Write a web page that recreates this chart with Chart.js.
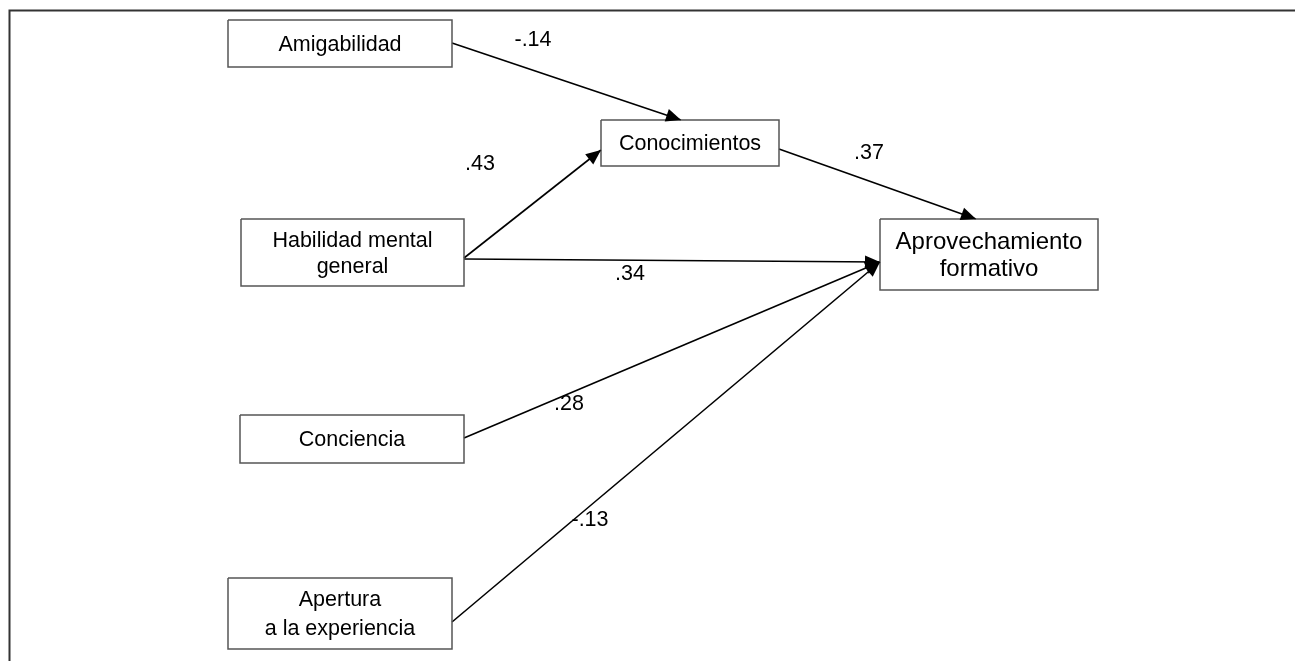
<!DOCTYPE html>
<html>
<head>
<meta charset="utf-8">
<script src="https://cdn.jsdelivr.net/npm/chart.js@4.4.1/dist/chart.umd.min.js"></script>
<style>
  html, body { margin: 0; padding: 0; background: #fff; }
  #wrap { width: 1295px; height: 661px; }
</style>
</head>
<body>
<div id="wrap"><canvas id="pathChart"></canvas></div>
<script>
// diagram units = pixels of the original figure (x right, y down)
const nodeLabels = [
    ['Amigabilidad'],
    ['Conocimientos'],
    ['Habilidad mental', 'general'],
    ['Aprovechamiento', 'formativo'],
    ['Conciencia'],
    ['Apertura', 'a la experiencia']
];
const nodeBoxes = [
    [228, 20, 452, 67],
    [601, 120, 779, 166],
    [241, 219, 464, 286],
    [880, 219, 1098, 290],
    [240, 415, 464, 463],
    [228, 578, 452, 649]
];

// paths: from node -> to node, standardized coefficient
const pathFrom = [0, 2, 1, 2, 4, 5];
const pathTo   = [1, 1, 3, 3, 3, 3];
const pathCoef = ['-.14', '.43', '.37', '.34', '.28', '-.13'];
const pathStart = [[452, 43], [464, 258], [779, 149], [464, 259], [464, 438], [452, 622]];
const pathEnd   = [[681, 120], [601, 150], [976, 219], [880, 262], [880, 262], [880, 262]];
const coefPos   = [[533, 39], [480, 163], [869, 152], [630, 273], [569, 403], [590, 519]];

const FONT = '"Liberation Sans", Arial, sans-serif';

const boxDatasets = nodeBoxes.map((b, i) => ({
    label: nodeLabels[i].join(' '),
    data: [
        { x: b[0], y: b[1] }, { x: b[2], y: b[1] },
        { x: b[2], y: b[3] }, { x: b[0], y: b[3] },
        { x: b[0], y: b[1] }
    ],
    showLine: true,
    borderColor: '#555',
    borderWidth: 1.5,
    pointRadius: 0,
    fill: false,
    tension: 0
}));

const arrowDatasets = pathFrom.map((f, i) => ({
    label: 'path' + i,
    arrow: true,
    data: [
        { x: pathStart[i][0], y: pathStart[i][1] },
        { x: pathEnd[i][0], y: pathEnd[i][1] }
    ],
    showLine: true,
    borderColor: '#000',
    borderWidth: 1.6,
    pointRadius: 0,
    fill: false
}));

const frameDataset = {
    label: 'frame',
    data: [{ x: 9.5, y: 700 }, { x: 9.5, y: 10.5 }, { x: 1320, y: 10.5 }],
    showLine: true,
    borderColor: '#333',
    borderWidth: 2,
    pointRadius: 0,
    fill: false
};

const diagramPlugin = {
    id: 'diagram',
    afterDatasetsDraw(chart) {
        const ctx = chart.ctx;
        const xs = chart.scales.x, ys = chart.scales.y;
        ctx.save();

        // arrow heads
        chart.data.datasets.forEach((ds, i) => {
            if (!ds.arrow) return;
            const pts = chart.getDatasetMeta(i).data;
            const a = pts[0], b = pts[1];
            const ang = Math.atan2(b.y - a.y, b.x - a.x);
            const len = 15, half = 6.5;
            ctx.beginPath();
            ctx.moveTo(b.x, b.y);
            ctx.lineTo(b.x - len * Math.cos(ang) + half * Math.sin(ang),
                       b.y - len * Math.sin(ang) - half * Math.cos(ang));
            ctx.lineTo(b.x - len * Math.cos(ang) - half * Math.sin(ang),
                       b.y - len * Math.sin(ang) + half * Math.cos(ang));
            ctx.closePath();
            ctx.fillStyle = '#000';
            ctx.fill();
        });

        // node texts
        ctx.fillStyle = '#000';
        ctx.textAlign = 'center';
        ctx.textBaseline = 'middle';
        nodeBoxes.forEach((b, i) => {
            const lines = nodeLabels[i];
            const size = i === 3 ? 24 : 21.5;
            const lh = i === 5 ? 29 : (i === 3 ? 27.5 : 26.5);
            ctx.font = size + 'px ' + FONT;
            const cx = xs.getPixelForValue((b[0] + b[2]) / 2);
            const cy = ys.getPixelForValue((b[1] + b[3]) / 2);
            lines.forEach((t, k) => {
                ctx.fillText(t, cx, cy + (k - (lines.length - 1) / 2) * lh + 1.5);
            });
        });

        // coefficients
        ctx.font = '21.5px ' + FONT;
        pathCoef.forEach((c, i) => {
            ctx.fillText(c, xs.getPixelForValue(coefPos[i][0]), ys.getPixelForValue(coefPos[i][1]) + 1);
        });
        ctx.restore();
    }
};

new Chart(document.getElementById('pathChart'), {
    type: 'scatter',
    data: { datasets: [frameDataset, ...boxDatasets, ...arrowDatasets] },
    options: {
        responsive: true,
        maintainAspectRatio: false,
        animation: false,
        layout: { padding: 0 },
        plugins: { legend: { display: false }, tooltip: { enabled: false } },
        scales: {
            x: { type: 'linear', min: 0, max: 1295, display: false },
            y: { type: 'linear', min: 0, max: 661, reverse: true, display: false }
        }
    },
    plugins: [diagramPlugin]
});
</script>
</body>
</html>
